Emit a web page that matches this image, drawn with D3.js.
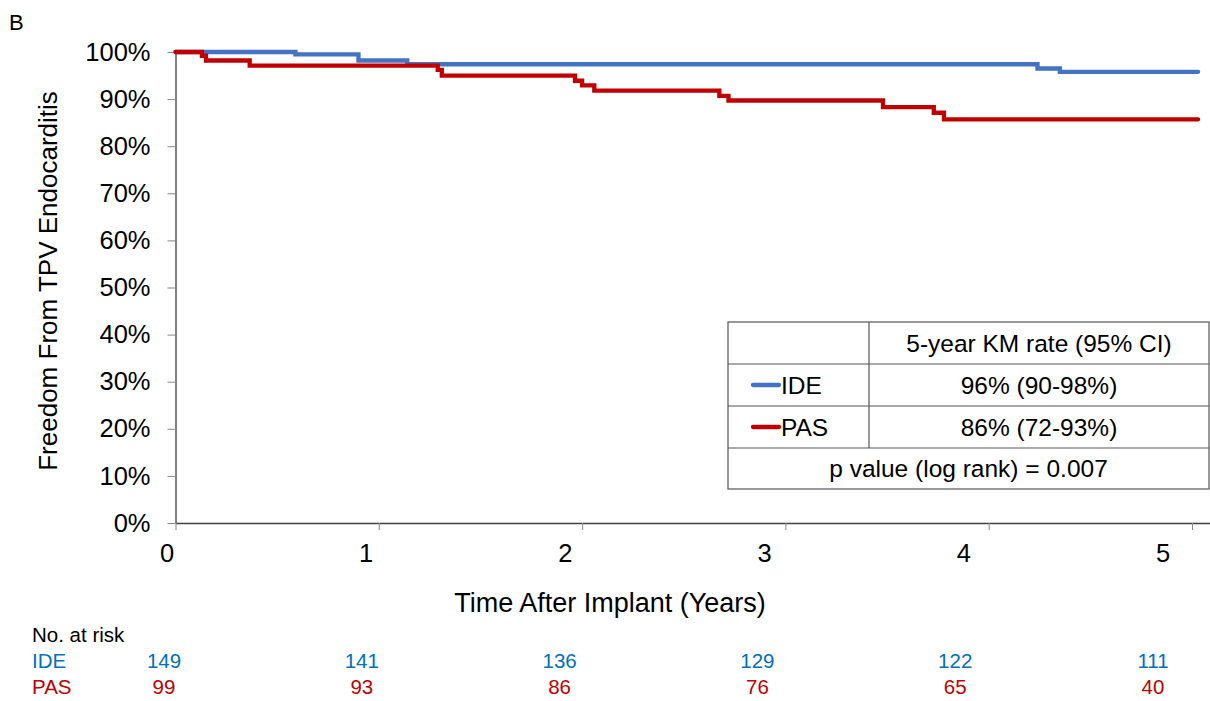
<!DOCTYPE html>
<html>
<head>
<meta charset="utf-8">
<script src="https://cdn.jsdelivr.net/npm/d3@7"></script>
<style>
  body { margin: 0; background: #fff; }
  svg { font-family: "Liberation Sans", Arial, sans-serif; }
</style>
</head>
<body>
<div id="chart"></div>
<script>
// KM step curves (years, % event free)
var ideTimes = [0, 0.59, 0.90, 1.14, 4.24, 4.35, 5.03];
var ideSurv  = [100, 99.5, 98.2, 97.4, 96.5, 95.8, 95.8];
var pasTimes = [0, 0.13, 0.15, 0.365, 1.29, 1.31, 1.965, 2.0, 2.06, 2.675, 2.72, 3.48, 3.73, 3.78, 5.03];
var pasSurv  = [100, 99.2, 98.2, 97.1, 96.2, 95.0, 93.9, 92.9, 91.8, 90.7, 89.7, 88.3, 87.1, 85.7, 85.7];

var xTicks = [0, 1, 2, 3, 4, 5];
var yTicks = [0, 10, 20, 30, 40, 50, 60, 70, 80, 90, 100];

var riskTimes = [0, 1, 2, 3, 4, 5];
var ideRisk = [149, 141, 136, 129, 122, 111];
var pasRisk = [99, 93, 86, 76, 65, 40];

var groups = ["IDE", "PAS"];
var rates = ["96% (90-98%)", "86% (72-93%)"];
var rateHeader = "5-year KM rate (95% CI)";
var pText = "p value (log rank) = 0.007";

var blue = "#4472C4", red = "#C00000";
var riskBlue = "#0070C0", riskRed = "#C00000";

var width = 1210, height = 701;

var svg = d3.select("#chart").append("svg")
	.attr("width", width)
	.attr("height", height);

var x = d3.scaleLinear().domain([0, 5.09]).range([175.5, 1210.3]);
var y = d3.scaleLinear().domain([0, 100]).range([523, 52]);
// labels under the axis sit a little left of the ticks
var xLab = d3.scaleLinear().domain([0, 5]).range([167, 1163]);
var xRisk = d3.scaleLinear().domain([0, 5]).range([164, 1153]);

svg.append("text")
	.attr("x", 9).attr("y", 30)
	.attr("font-size", 22)
	.text("B");

// y axis
var yAxis = svg.append("g")
	.attr("transform", "translate(" + x(0) + ",0)")
	.call(d3.axisLeft(y).tickValues(yTicks).tickSize(8).tickSizeOuter(0)
		.tickFormat(function(d) { return d + "%"; }).tickPadding(17));
yAxis.select(".domain").attr("stroke", "#404040").attr("stroke-width", 1.3);
yAxis.selectAll(".tick line").attr("stroke", "#888");
yAxis.selectAll(".tick text").attr("font-size", 25.5).attr("fill", "#000")
	.attr("font-family", "Liberation Sans, Arial, sans-serif");

// x axis
var xAxis = svg.append("g")
	.attr("transform", "translate(0," + y(0) + ")")
	.call(d3.axisBottom(x).tickValues(xTicks).tickSize(7).tickSizeOuter(0).tickFormat(""));
xAxis.select(".domain").attr("stroke", "#404040").attr("stroke-width", 1.3);
xAxis.selectAll(".tick line").attr("stroke", "#888");

svg.append("g").selectAll("text")
	.data(xTicks)
	.enter().append("text")
	.attr("x", function(d) { return xLab(d); })
	.attr("y", 562)
	.attr("text-anchor", "middle")
	.attr("font-size", 25.5)
	.text(function(d) { return d; });

svg.append("text")
	.attr("x", 610).attr("y", 612)
	.attr("text-anchor", "middle")
	.attr("font-size", 27)
	.text("Time After Implant (Years)");

svg.append("text")
	.attr("transform", "translate(57,281) rotate(-90)")
	.attr("text-anchor", "middle")
	.attr("font-size", 26)
	.text("Freedom From TPV Endocarditis");

// curves
var kmLine = d3.line()
	.curve(d3.curveStepAfter)
	.x(function(d) { return x(d[0]); })
	.y(function(d) { return y(d[1]); });

var ideData = ideTimes.map(function(t, i) { return [t, ideSurv[i]]; });
var pasData = pasTimes.map(function(t, i) { return [t, pasSurv[i]]; });

svg.append("path")
	.datum(ideData)
	.attr("d", kmLine)
	.attr("fill", "none")
	.attr("stroke", blue)
	.attr("stroke-width", 4.3)
	.attr("stroke-linecap", "round");

svg.append("path")
	.datum(pasData)
	.attr("d", kmLine)
	.attr("fill", "none")
	.attr("stroke", red)
	.attr("stroke-width", 4.3)
	.attr("stroke-linecap", "round");

// summary table
var tL = 728, tR = 1209, tMid = 869;
var rowY = [322, 364, 406, 448, 489];
var tbl = svg.append("g").attr("stroke", "#555").attr("stroke-width", 1.2);
tbl.append("rect").attr("x", tL).attr("y", rowY[0]).attr("width", tR - tL).attr("height", rowY[4] - rowY[0])
	.attr("fill", "#fff");
rowY.slice(1, 4).forEach(function(ry) {
	tbl.append("line").attr("x1", tL).attr("x2", tR).attr("y1", ry).attr("y2", ry);
});
tbl.append("line").attr("x1", tMid).attr("x2", tMid).attr("y1", rowY[0]).attr("y2", rowY[3]);

var fs = 24.5;
var cellMid = (tMid + tR) / 2;
svg.append("text")
	.attr("x", cellMid).attr("y", (rowY[0] + rowY[1]) / 2 + 8.5)
	.attr("text-anchor", "middle").attr("font-size", fs)
	.text(rateHeader);

var lineColors = [blue, red];
groups.forEach(function(g, i) {
	var cy = (rowY[i + 1] + rowY[i + 2]) / 2;
	svg.append("line")
		.attr("x1", 753).attr("x2", 779).attr("y1", cy).attr("y2", cy)
		.attr("stroke", lineColors[i]).attr("stroke-width", 4.3).attr("stroke-linecap", "round");
	svg.append("text")
		.attr("x", 781).attr("y", cy + 8.5)
		.attr("font-size", fs)
		.text(g);
	svg.append("text")
		.attr("x", cellMid).attr("y", cy + 8.5)
		.attr("text-anchor", "middle").attr("font-size", fs)
		.text(rates[i]);
});

svg.append("text")
	.attr("x", (tL + tR) / 2).attr("y", (rowY[3] + rowY[4]) / 2 + 8.5)
	.attr("text-anchor", "middle").attr("font-size", fs)
	.text(pText);

// number at risk
var rfs = 20.5;
svg.append("text").attr("x", 32).attr("y", 642).attr("font-size", rfs).text("No. at risk");
svg.append("text").attr("x", 32).attr("y", 668).attr("font-size", rfs).attr("fill", riskBlue).text("IDE");
svg.append("text").attr("x", 32).attr("y", 694).attr("font-size", rfs).attr("fill", riskRed).text("PAS");

svg.append("g").selectAll("text")
	.data(ideRisk)
	.enter().append("text")
	.attr("x", function(d, i) { return xRisk(riskTimes[i]); })
	.attr("y", 668)
	.attr("text-anchor", "middle")
	.attr("font-size", rfs)
	.attr("fill", riskBlue)
	.text(function(d) { return d; });

svg.append("g").selectAll("text")
	.data(pasRisk)
	.enter().append("text")
	.attr("x", function(d, i) { return xRisk(riskTimes[i]); })
	.attr("y", 694)
	.attr("text-anchor", "middle")
	.attr("font-size", rfs)
	.attr("fill", riskRed)
	.text(function(d) { return d; });
</script>
</body>
</html>
